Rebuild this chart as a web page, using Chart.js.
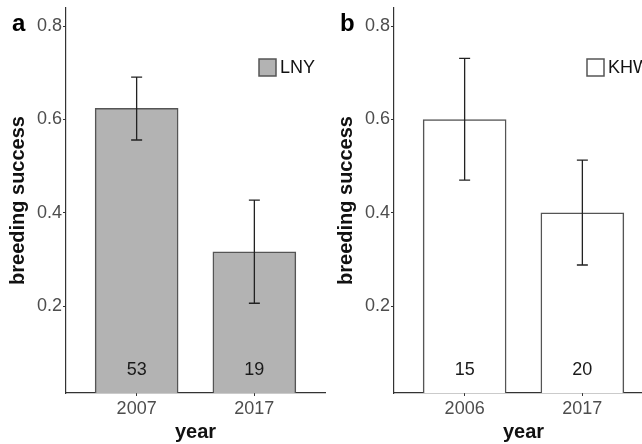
<!DOCTYPE html>
<html>
<head>
<meta charset="utf-8">
<script src="https://cdn.jsdelivr.net/npm/chart.js@4/dist/chart.umd.min.js"></script>
<style>
html,body{margin:0;padding:0;width:642px;height:444px;overflow:hidden;background:#fff;}
.p{position:absolute;top:0;width:330px;height:444px;}
#pa{left:0;}
#pb{left:328px;}
</style>
</head>
<body>
<div class="p" id="pa"><canvas id="ca" width="330" height="444"></canvas></div>
<div class="p" id="pb"><canvas id="cb" width="330" height="444"></canvas></div>
<script>
// Panel a (LNY)
const yearsA = ['2007', '2017'];
const successA = [0.624, 0.316];
const errLowA = [0.556, 0.206];
const errHighA = [0.691, 0.427];
const countsA = ['53', '19'];
// Panel b (KHW)
const yearsB = ['2006', '2017'];
const successB = [0.600, 0.400];
const errLowB = [0.470, 0.288];
const errHighB = [0.731, 0.513];
const countsB = ['15', '20'];
const yTicks = [0.2, 0.4, 0.6, 0.8];

const FONT = "'Liberation Sans', Arial, Helvetica, sans-serif";

function makePanel(id, tag, legendLabel, years, vals, lo, hi, counts, fill) {
  const extras = {
    id: 'extras_' + id,
    afterDatasetsDraw(chart) {
      const {ctx, chartArea, scales} = chart;
      const xs = scales.x, ys = scales.y;
      ctx.save();
      // error bars
      ctx.strokeStyle = '#222';
      ctx.lineWidth = 1.3;
      for (let i = 0; i < vals.length; i++) {
        const px = xs.getPixelForValue(i + 1);
        const pl = ys.getPixelForValue(lo[i]);
        const ph = ys.getPixelForValue(hi[i]);
        ctx.beginPath();
        ctx.moveTo(px, pl); ctx.lineTo(px, ph);
        ctx.moveTo(px - 5.5, pl); ctx.lineTo(px + 5.5, pl);
        ctx.moveTo(px - 5.5, ph); ctx.lineTo(px + 5.5, ph);
        ctx.stroke();
      }
      // sample sizes
      ctx.fillStyle = '#1a1a1a';
      ctx.font = '18px ' + FONT;
      ctx.textAlign = 'center';
      ctx.textBaseline = 'middle';
      for (let i = 0; i < counts.length; i++) {
        ctx.fillText(counts[i], xs.getPixelForValue(i + 1), chartArea.bottom - 23);
      }
      // legend
      const lx = chartArea.left + 193, ly = 59;
      ctx.fillStyle = fill;
      ctx.fillRect(lx, ly, 17, 17);
      ctx.strokeStyle = '#555';
      ctx.lineWidth = 1.5;
      ctx.strokeRect(lx, ly, 17, 17);
      ctx.fillStyle = '#111';
      ctx.textAlign = 'left';
      ctx.fillText(legendLabel, lx + 21, ly + 9);
      // panel tag
      ctx.font = 'bold 24px ' + FONT;
      ctx.fillStyle = '#000';
      ctx.textAlign = 'left';
      ctx.fillText(tag, chartArea.left - 54, 24);
      ctx.restore();
    }
  };
  return new Chart(document.getElementById(id), {
    type: 'bar',
    data: {
      datasets: [{
        data: vals.map((v, i) => ({x: i + 1, y: v})),
        backgroundColor: fill,
        borderColor: '#555',
        borderWidth: 1.5,
        barThickness: 83
      }]
    },
    options: {
      responsive: false,
      animation: false,
      layout: {padding: {top: 8, right: 5, left: 0, bottom: 0}},
      plugins: {legend: {display: false}, tooltip: {enabled: false}},
      scales: {
        x: {
          type: 'linear',
          offset: false,
          min: 0.4, max: 2.6,
          afterBuildTicks(s) { s.ticks = years.map((_, i) => ({value: i + 1})); },
          afterFit(s) { s.height = 51; s.paddingLeft = 0; s.paddingRight = 0; },
          grid: {display: true, offset: false, drawOnChartArea: false, drawTicks: true, tickLength: 3, color: '#333', tickWidth: 1},
          border: {display: true, color: '#333', width: 1.2},
          ticks: {
            callback: (v) => years[Math.round(v) - 1],
            color: '#4d4d4d', font: {family: FONT, size: 18}, padding: 2, maxRotation: 0
          },
          title: {display: true, text: 'year', color: '#111', font: {family: FONT, size: 20, weight: 'bold'}, padding: {top: 0, bottom: 0}}
        },
        y: {
          min: 0.0136, max: 0.839,
          afterBuildTicks(s) { s.ticks = yTicks.map(v => ({value: v})); },
          afterFit(s) { s.width = 66; s.paddingTop = 0; s.paddingBottom = 0; },
          grid: {display: true, drawOnChartArea: false, drawTicks: true, tickLength: 3, color: '#333', tickWidth: 1},
          border: {display: true, color: '#333', width: 1.2},
          ticks: {
            callback: (v) => v.toFixed(1),
            color: '#4d4d4d', font: {family: FONT, size: 18}, padding: 1
          },
          title: {display: true, text: 'breeding success', color: '#111', font: {family: FONT, size: 20, weight: 'bold'}, padding: {top: 6, bottom: 0}}
        }
      }
    },
    plugins: [extras]
  });
}

makePanel('ca', 'a', 'LNY', yearsA, successA, errLowA, errHighA, countsA, '#b3b3b3');
makePanel('cb', 'b', 'KHW', yearsB, successB, errLowB, errHighB, countsB, '#ffffff');
</script>
</body>
</html>
